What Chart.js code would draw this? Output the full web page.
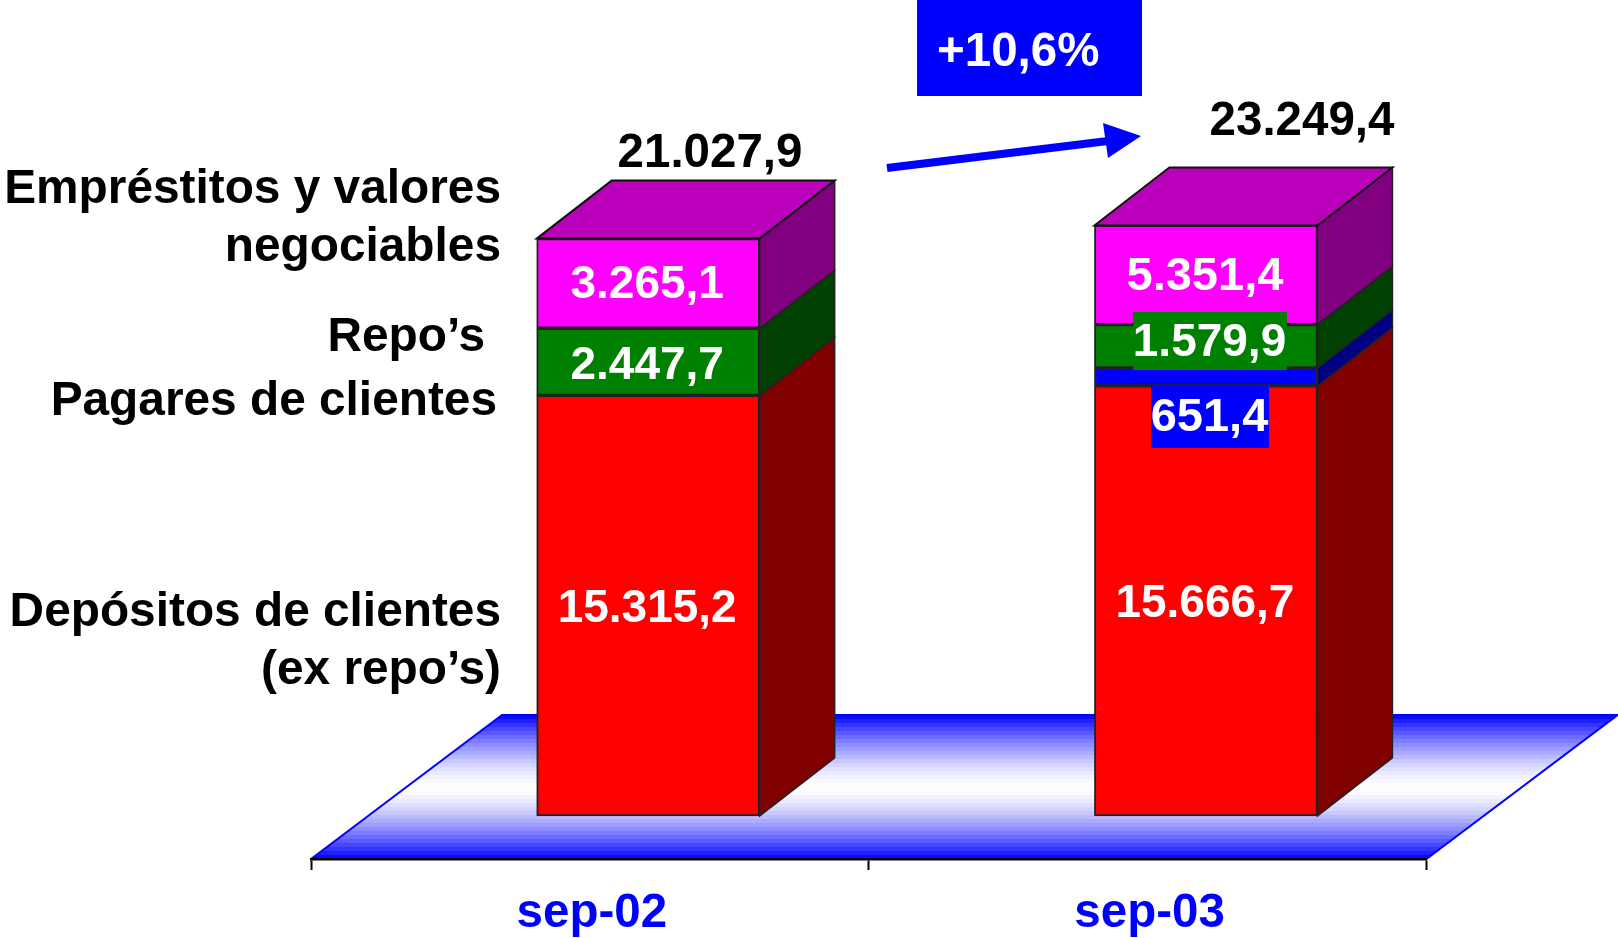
<!DOCTYPE html>
<html><head><meta charset="utf-8">
<style>html,body{margin:0;padding:0;background:#fff}canvas{display:block}</style>
<script src="https://cdn.jsdelivr.net/npm/chart.js@4/dist/chart.umd.min.js"></script>
</head><body><canvas id="c" width="1618" height="938"></canvas>
<script>
// Values
const categories = ['sep-02', 'sep-03'];
const depositos = [15315.2, 15666.7];
const pagares = [null, 651.4];
const repos = [2447.7, 1579.9];
// Drawn height of the top segment. In the picture the sep-03 block is shorter than its printed 5.351,4.
const emprestitos = [3265.1, 3610];
const depositosLabels = ['15.315,2', '15.666,7'];
const pagaresLabels = [null, '651,4'];
const reposLabels = ['2.447,7', '1.579,9'];
const emprestitosLabels = ['3.265,1', '5.351,4'];
const totalLabels = ['21.027,9', '23.249,4'];
const changeLabel = '+10,6%';

const FONT = '"Liberation Sans", Arial, sans-serif';
const BAR_SHIFT = 58.3, DX = 75, DY = 58, FLOOR_DX = 191, FLOOR_DY = 144;

const faces = [
  {front:'#ff0000', side:'#800000', top:'#bb0000'},
  {front:'#0000ff', side:'#000080', top:'#0000bb'},
  {front:'#008000', side:'#004000', top:'#006000'},
  {front:'#ff00ff', side:'#800080', top:'#bb00bb'}
];

function poly(ctx, pts, fill, stroke, lw){
  ctx.beginPath();
  pts.forEach((p,i)=> i?ctx.lineTo(p[0],p[1]):ctx.moveTo(p[0],p[1]));
  ctx.closePath();
  if(fill){ctx.fillStyle=fill;ctx.fill();}
  if(stroke){ctx.strokeStyle=stroke;ctx.lineWidth=lw;ctx.lineJoin='miter';ctx.stroke();}
}
function text(ctx,s,x,y,size,color,align){
  ctx.font='bold '+size+'px '+FONT;
  ctx.fillStyle=color;ctx.textAlign=align||'center';ctx.textBaseline='middle';
  ctx.fillText(s,x,y);
}

const scene = {
  id:'scene',
  beforeDraw(chart){
    const ctx=chart.ctx,a=chart.chartArea,b=a.bottom,t=b-FLOOR_DY;
    ctx.save();
    // banded floor
    const N=36,h=FLOOR_DY/N;
    ctx.beginPath();
    ctx.moveTo(a.left,b);ctx.lineTo(a.right,b);ctx.lineTo(a.right+FLOOR_DX,t);ctx.lineTo(a.left+FLOOR_DX,t);ctx.closePath();
    ctx.save();ctx.clip();
    for(let i=0;i<N;i++){
      const m=Math.abs((i+0.5)/N*2-1);           // 0 in the middle, 1 at the edges
      const v=Math.round(255*(1-Math.pow(m,1.5)));
      ctx.fillStyle='rgb('+v+','+v+',255)';
      ctx.fillRect(a.left,t+i*h,a.right+FLOOR_DX-a.left,h+0.5);
    }
    ctx.restore();
    ctx.strokeStyle='#0000ff';ctx.lineWidth=2;
    ctx.beginPath();ctx.moveTo(a.left,b);ctx.lineTo(a.left+FLOOR_DX,t);ctx.lineTo(a.right+FLOOR_DX,t);ctx.lineTo(a.right,b);ctx.stroke();
    ctx.restore();
  },
  beforeDatasetsDraw(chart){chart.ctx.save();chart.ctx.translate(BAR_SHIFT,0);},
  afterDatasetsDraw(chart){
    const ctx=chart.ctx;
    // 3D side and top faces, built from the bar elements
    chart.data.datasets.forEach((ds,i)=>{
      chart.getDatasetMeta(i).data.forEach((bar,j)=>{
        if(ds.data[j]==null) return;
        const r=bar.x+bar.width/2,l=bar.x-bar.width/2,y=bar.y,bs=bar.base;
        poly(ctx,[[r,y],[r+DX,y-DY],[r+DX,bs-DY],[r,bs]],faces[i].side,'#222',1.5);
        if(i===chart.data.datasets.length-1)
          poly(ctx,[[l,y],[l+DX,y-DY],[r+DX,y-DY],[r,y]],faces[i].top,'#111',2);
      });
    });
    ctx.restore();
  },
  afterDraw(chart){
    const ctx=chart.ctx;
    ctx.save();
    const seg=(d,j)=>{const e=chart.getDatasetMeta(d).data[j];return {x:e.x+BAR_SHIFT,y:(e.y+e.base)/2,top:e.y};};
    // value labels
    const W='#ffffff';
    [0,1].forEach(j=>{
      const p=seg(0,j);text(ctx,depositosLabels[j],p.x-1,p.y+[4,3][j],46,W);
      const q=seg(3,j);text(ctx,emprestitosLabels[j],q.x-1,q.y+2,j?47:46,W);
    });
    const g0=seg(2,0);text(ctx,reposLabels[0],g0.x-1,g0.y+4,46,W);
    ctx.fillStyle='#008000';ctx.fillRect(1133,312,154,58);
    text(ctx,reposLabels[1],1209.5,343,46,W);
    ctx.fillStyle='#0000ff';ctx.fillRect(1151,386,118,62);
    text(ctx,pagaresLabels[1],1209.5,418,47,W);
    // totals
    const K='#000000';
    text(ctx,totalLabels[0],710,154,47.5,K);
    text(ctx,totalLabels[1],1302,122,47.5,K);
    // left-hand series names
    text(ctx,'Empréstitos y valores',501,190,47.8,K,'right');
    text(ctx,'negociables',501,248,47.8,K,'right');
    text(ctx,'Repo’s',485,337.5,47.8,K,'right');
    text(ctx,'Pagares de clientes',497,402,47.8,K,'right');
    text(ctx,'Depósitos de clientes',501,613,47.8,K,'right');
    text(ctx,'(ex repo’s)',501,671,47.8,K,'right');
    // growth badge and arrow
    ctx.fillStyle='#0000ff';ctx.fillRect(917,0,225,96);
    text(ctx,changeLabel,937,53,47.5,W,'left');
    ctx.strokeStyle='#0000ff';ctx.lineWidth=8;ctx.lineCap='butt';
    ctx.beginPath();ctx.moveTo(887,168);ctx.lineTo(1108,141);ctx.stroke();
    poly(ctx,[[1141,136],[1103,123],[1108,158]],'#0000ff');
    ctx.restore();
  }
};

new Chart(document.getElementById('c'),{
  type:'bar',
  data:{labels:categories,datasets:[
    {label:'Depósitos de clientes (ex repo’s)',data:depositos},
    {label:'Pagares de clientes',data:pagares},
    {label:'Repo’s',data:repos},
    {label:'Empréstitos y valores negociables',data:emprestitos}
  ].map((d,i)=>Object.assign(d,{backgroundColor:faces[i].front,borderColor:'#222',borderWidth:2,borderSkipped:false,barThickness:223,stack:'a'}))},
  options:{
    responsive:false,animation:false,
    layout:{padding:{left:311,right:191.5,top:0,bottom:0}},
    plugins:{legend:{display:false},tooltip:{enabled:false},title:{display:false}},
    scales:{
      x:{stacked:true,offset:true,
        afterFit(s){s.height=79;},
        grid:{drawOnChartArea:false,drawTicks:true,tickLength:11,color:'#000',tickWidth:2},
        border:{display:true,color:'#000',width:2.5},
        ticks:{color:'#0000ff',padding:15,labelOffset:2,font:{family:FONT,size:47.5,weight:'bold'},maxRotation:0}
      },
      y:{stacked:true,display:false,min:-1570,max:29720}
    }
  },
  plugins:[scene]
});
</script></body></html>
